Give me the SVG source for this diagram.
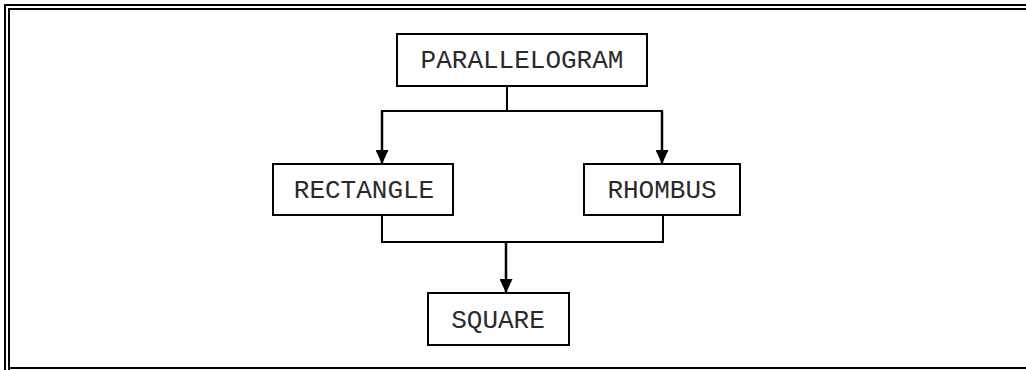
<svg xmlns="http://www.w3.org/2000/svg" width="1026" height="370" viewBox="0 0 1026 370">
  <defs>
    <marker id="arrow" viewBox="0 0 14 13" refX="14" refY="6.5" markerWidth="14" markerHeight="13" markerUnits="userSpaceOnUse" orient="auto">
      <path d="M0,0 L14,6.5 L0,13 Z" fill="#000"/>
    </marker>
  </defs>
  <style>
    .frame { fill: none; stroke: #000; stroke-width: 2; }
    .box { fill: #fff; stroke: #000; stroke-width: 2; }
    .label { font-family: "Liberation Mono", "Courier New", monospace; font-size: 26px; fill: #2a2a2a; text-anchor: middle; }
    .wire { fill: none; stroke: #000; stroke-width: 2; }
    .arrow { fill: none; stroke: #000; stroke-width: 2.5; marker-end: url(#arrow); }
  </style>
  <rect x="0" y="0" width="1026" height="370" fill="#fff"/>

  <!-- page frame -->
  <g id="frame">
    <path class="frame" d="M5,370 V5 H1026"/>
    <path class="frame" d="M9,370 V9 H1026"/>
    <path class="frame" d="M10,368 H1026"/>
  </g>

  <!-- connectors -->
  <g id="connectors">
    <path class="wire" d="M507,86 V111"/>
    <path class="wire" d="M381,111 H663"/>
    <path class="arrow" d="M382,111 V164"/>
    <path class="arrow" d="M662,111 V164"/>
    <path class="wire" d="M382,215 V242 H663 V215"/>
    <path class="arrow" d="M506,242 V293"/>
  </g>

  <g id="parallelogram">
    <rect class="box" x="397" y="34" width="250" height="52"/>
    <text class="label" x="522" y="68">PARALLELOGRAM</text>
  </g>
  <g id="rectangle">
    <rect class="box" x="273" y="164" width="180" height="51"/>
    <text class="label" x="364" y="198">RECTANGLE</text>
  </g>
  <g id="rhombus">
    <rect class="box" x="584" y="164" width="156" height="51"/>
    <text class="label" x="662" y="198">RHOMBUS</text>
  </g>
  <g id="square">
    <rect class="box" x="428" y="293" width="141" height="52"/>
    <text class="label" x="498" y="328">SQUARE</text>
  </g>
</svg>
